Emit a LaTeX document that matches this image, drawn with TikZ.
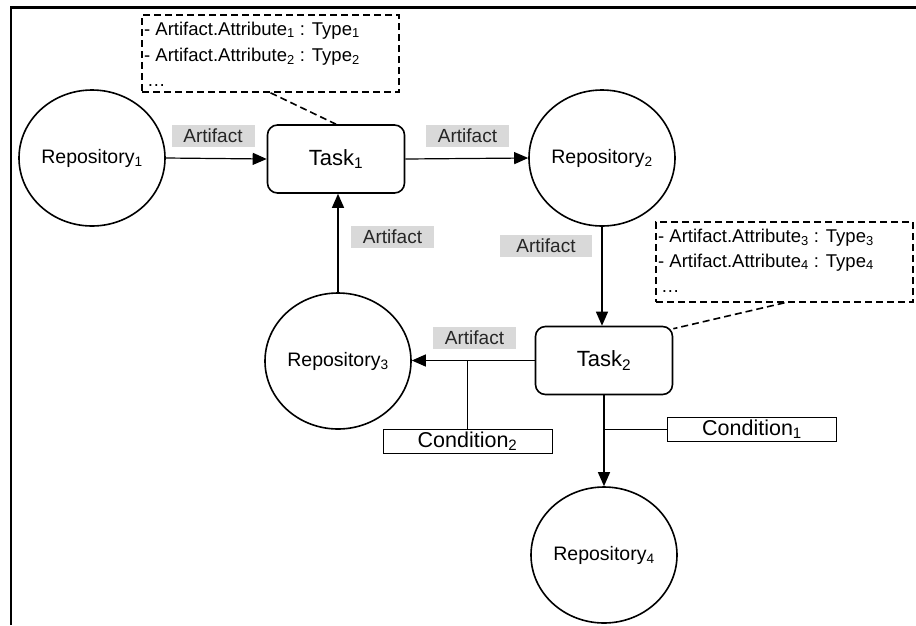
\documentclass[tikz,border=0pt]{standalone}
\usepackage{fontspec}
\setmainfont{Liberation Sans}
\usetikzlibrary{arrows.meta,shapes.geometric,calc}
\tikzset{
 repo/.style={ellipse, draw, line width=1.6pt, minimum width=146pt, minimum height=136pt, inner sep=0pt, font=\fontsize{19.5}{22}\selectfont},
 taskbox/.style={rectangle, rounded corners=10pt, draw, line width=1.6pt, minimum width=137pt, minimum height=68pt, font=\fontsize{22}{24}\selectfont},
 art/.style={fill=gray!30, minimum width=83pt, minimum height=22pt, inner sep=0pt, text=black!85, font=\fontsize{19}{20}\selectfont},
 cond/.style={draw, line width=1pt, minimum width=169pt, minimum height=24pt, inner sep=0pt, font=\fontsize{21.5}{24}\selectfont},
 note/.style={draw, line width=1.6pt, dash pattern=on 7pt off 4pt, inner sep=0pt},
 notetext/.style={anchor=base west, inner sep=0pt, font=\fontsize{18.5}{22}\selectfont},
 flow/.style={line width=1.2pt, -{Triangle[length=14pt,width=12pt]}},
 plainline/.style={line width=1.2pt},
 link/.style={line width=1.6pt, dash pattern=on 7pt off 4pt},
}
\begin{document}
\begin{tikzpicture}[x=1pt,y=-1pt]
\useasboundingbox (0,0) rectangle (916,625);
% frame
\draw[line width=2.5pt] (11,625) -- (11,7.5) -- (916,7.5);

% repositories
\node[repo] (r1) at (92,158) {Repository\textsubscript{1}};
\node[repo] (r2) at (602,158) {Repository\textsubscript{2}};
\node[repo] (r3) at (338,361) {Repository\textsubscript{3}};
\node[repo] (r4) at (604,555) {Repository\textsubscript{4}};

% tasks
\node[taskbox] (t1) at (336,159) {Task\textsubscript{1}};
\node[taskbox] (t2) at (604,360.5) {Task\textsubscript{2}};

% artifact labels
\node[art] (a1) at (213,136) {Artifact};
\node[art] (a2) at (467.5,136) {Artifact};
\node[art, minimum width=92pt] (a3) at (546,245.5) {Artifact};
\node[art] (a4) at (474.5,338) {Artifact};
\node[art] (a5) at (392.5,237) {Artifact};

% conditions
\node[cond] (c1) at (752,429.5) {Condition\textsubscript{1}};
\node[cond] (c2) at (467.5,441) {Condition\textsubscript{2}};

% notes
\node[note, minimum width=257pt, minimum height=77pt] (n1) at (270.5,53.5) {};
\node[notetext] (n1a) at (144,35) {- Artifact.Attribute\textsubscript{1} : Type\textsubscript{1}};
\node[notetext] (n1b) at (144,61) {- Artifact.Attribute\textsubscript{2} : Type\textsubscript{2}};
\node[notetext] (n1c) at (147,86) {…};

\node[note, minimum width=257pt, minimum height=80pt] (n2) at (784.5,262) {};
\node[notetext] (n2a) at (658,242) {- Artifact.Attribute\textsubscript{3} : Type\textsubscript{3}};
\node[notetext] (n2b) at (658,267) {- Artifact.Attribute\textsubscript{4} : Type\textsubscript{4}};
\node[notetext] (n2c) at (661,292) {…};

% note links
\draw[link] (n1.south) -- (t1.north);
\draw[link] (n2.south) -- ([yshift=-3pt]t2.north east);

% flows
\draw[flow] (r1.east) -- (t1.west);
\draw[flow] (t1.east) -- (r2.west);
\draw[flow] (r2.south) -- (r2.south |- t2.north);
\draw[flow] (t2.west) -- (t2.west -| r3.east);
\draw[flow] (r3.north) -- (r3.north |- t1.south);
\draw[flow] (t2.south) -- (r4.north);

% condition connectors
\draw[plainline] (c2.north) -- (c2.north |- t2.west);
\draw[plainline] (c1.west) -- (c1.west -| t2.south);
\end{tikzpicture}
\end{document}
